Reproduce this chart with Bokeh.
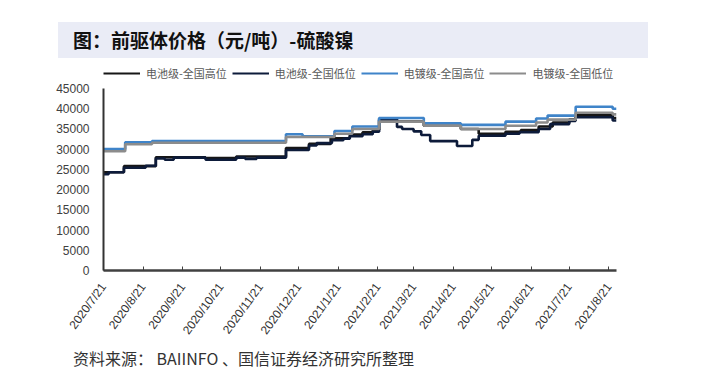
import pandas as pd
from bokeh.plotting import figure
from bokeh.layouts import column
from bokeh.models import Legend, LegendItem, FixedTicker, Range1d, ColumnDataSource, Div
from bokeh.embed import file_html
from bokeh.resources import INLINE

TITLE = "图：前驱体价格（元/吨）-硫酸镍"
SOURCE = "资料来源： BAIINFO 、国信证券经济研究所整理"
SERIES_NAMES = ["电池级-全国高位", "电池级-全国低位", "电镀级-全国高位", "电镀级-全国低位"]
SERIES_COLORS = ["#161616", "#0d1b3a", "#3f84c9", "#8c8c8c"]

X_START = "2020-07-21"
X_END = "2021-08-27"
TICK_DATES = ["2020-07-21", "2020-08-21", "2020-09-21", "2020-10-21", "2020-11-21",
              "2020-12-21", "2021-01-21", "2021-02-21", "2021-03-21", "2021-04-21",
              "2021-05-21", "2021-06-21", "2021-07-21", "2021-08-21"]
TICK_LABELS = ["2020/7/21", "2020/8/21", "2020/9/21", "2020/10/21", "2020/11/21",
               "2020/12/21", "2021/1/21", "2021/2/21", "2021/3/21", "2021/4/21",
               "2021/5/21", "2021/6/21", "2021/7/21", "2021/8/21"]
Y_TICKS = [0, 5000, 10000, 15000, 20000, 25000, 30000, 35000, 40000, 45000]

# 电池级-全国高位
battery_high_dates = ["2020-07-21", "2020-08-06", "2020-08-31", "2020-10-09", "2020-11-02",
                      "2020-12-11", "2020-12-29", "2021-01-15", "2021-01-30", "2021-02-09",
                      "2021-02-17", "2021-02-22", "2021-03-08", "2021-03-29", "2021-04-27",
                      "2021-05-11", "2021-06-01", "2021-06-13", "2021-06-27", "2021-07-08",
                      "2021-07-21", "2021-07-26", "2021-08-24"]
battery_high_vals = [24300, 25800, 28000, 27800, 28200,
                     30300, 31300, 32700, 33600, 34200,
                     34800, 37500, 36800, 35800, 35000,
                     33800, 34300, 34700, 35600, 36600,
                     37400, 38400, 37700]

# 电池级-全国低位
battery_low_dates = ["2020-07-21", "2020-07-25", "2020-08-06", "2020-08-23", "2020-08-31",
                     "2020-09-07", "2020-09-14", "2020-10-09", "2020-11-02", "2020-11-09",
                     "2020-11-18", "2020-12-11", "2020-12-29", "2021-01-04", "2021-01-16",
                     "2021-01-25", "2021-01-30", "2021-02-09", "2021-02-17", "2021-02-22",
                     "2021-03-08", "2021-03-12", "2021-03-21", "2021-03-27", "2021-04-03",
                     "2021-04-24", "2021-05-06", "2021-05-11", "2021-06-01", "2021-06-12",
                     "2021-06-27", "2021-07-06", "2021-07-21", "2021-07-26", "2021-08-24"]
battery_low_vals = [23800, 24300, 25400, 25900, 27700,
                    27400, 27900, 27400, 27900, 27600,
                    27900, 29800, 30900, 31500, 32200,
                    32600, 33200, 33700, 34300, 37200,
                    35500, 35000, 34400, 33500, 32000,
                    30800, 32300, 33300, 33800, 34200,
                    35000, 36200, 37000, 37900, 37100]

# 电镀级-全国高位
plating_high_dates = ["2020-07-21", "2020-08-07", "2020-08-28", "2020-12-11", "2020-12-24",
                      "2021-01-18", "2021-02-01", "2021-02-22", "2021-03-29", "2021-04-27",
                      "2021-06-01", "2021-06-25", "2021-07-04", "2021-07-26", "2021-08-24"]
plating_high_vals = [30000, 31700, 32000, 33700, 33200,
                     34500, 35600, 37700, 36400, 36000,
                     36800, 37600, 38300, 40500, 40000]

# 电镀级-全国低位
plating_low_dates = ["2020-07-21", "2020-08-07", "2020-08-28", "2020-12-11", "2021-01-18",
                     "2021-02-01", "2021-02-22", "2021-03-29", "2021-04-27", "2021-06-01",
                     "2021-06-25", "2021-07-04", "2021-07-26", "2021-08-24"]
plating_low_vals = [29500, 31200, 31600, 33000, 33800,
                    35000, 36800, 35800, 35000, 35800,
                    36600, 37300, 39000, 38600]

SERIES = [(battery_high_dates, battery_high_vals),
          (battery_low_dates, battery_low_vals),
          (plating_high_dates, plating_high_vals),
          (plating_low_dates, plating_low_vals)]

CJK = "Noto Sans CJK SC"
LAT = "Liberation Sans"
W = 697

# ---------- title block ----------
title_div = Div(
    text=(f'<div style="position:relative; left:58px; top:22px; width:590px; height:36px; '
          f'background:#eaecf6; box-sizing:border-box; padding-left:15px; line-height:36px; '
          f'font-family:\'{CJK}\'; font-weight:bold; font-size:19px; color:#111111; '
          f'white-space:nowrap;">{TITLE}</div>'),
    width=W, height=63, margin=0)

sources = []
for dates, vals in SERIES:
    xs = pd.to_datetime(dates + [X_END])
    ys = vals + [vals[-1]]
    sources.append(ColumnDataSource(dict(x=xs, y=ys)))

x_range = Range1d(pd.Timestamp(X_START), pd.Timestamp(X_END))

# ---------- legend strip (same series, drawn out of its view; only the legend shows) ----------
lf = figure(width=W, height=20, x_range=x_range, y_range=Range1d(-2, -1),
            x_axis_type=None, y_axis_type=None, toolbar_location=None,
            output_backend="svg", min_border=0, outline_line_color=None)
lf.grid.visible = False
leg_renderers = [lf.step("x", "y", source=src, mode="after", line_color=c, line_width=2.2)
                 for src, c in zip(sources, SERIES_COLORS)]
legend = Legend(items=[LegendItem(label=n, renderers=[r]) for n, r in zip(SERIES_NAMES, leg_renderers)],
                location="left", orientation="horizontal",
                glyph_width=37, glyph_height=12, label_standoff=6, spacing=5,
                padding=0, margin=0, border_line_color=None, background_fill_alpha=0,
                label_text_font=CJK, label_text_font_size="11px", label_text_color="#595959")
lf.add_layout(legend)

# ---------- main chart ----------
p = figure(width=W, height=265, x_axis_type="datetime", x_range=x_range,
           y_range=Range1d(0, 45000),
           min_border_left=103, min_border_right=81, min_border_top=5, min_border_bottom=78,
           toolbar_location=None, output_backend="svg", outline_line_color=None)
p.xgrid.visible = False
p.ygrid.visible = False

for src, color in zip(sources, SERIES_COLORS):
    p.step("x", "y", source=src, mode="after", line_color=color, line_width=2.6)

tick_ms = [pd.Timestamp(d).value // 10**6 for d in TICK_DATES]
p.xaxis.ticker = FixedTicker(ticks=tick_ms)
p.xaxis.major_label_overrides = {float(t): lab for t, lab in zip(tick_ms, TICK_LABELS)}
p.xaxis.major_label_orientation = 0.94
p.xaxis.major_label_text_font = LAT
p.xaxis.major_label_text_font_size = "12px"
p.xaxis.major_label_text_color = "#333333"
p.xaxis.major_tick_in = 4
p.xaxis.major_tick_out = 0
p.xaxis.minor_tick_line_color = None
p.xaxis.axis_line_width = 2.5
p.xaxis.axis_line_color = "#404040"
p.xaxis.major_tick_line_color = "#404040"
p.xaxis.major_label_standoff = 14

p.yaxis.ticker = FixedTicker(ticks=Y_TICKS)
p.yaxis.major_label_text_font = LAT
p.yaxis.major_label_text_font_size = "12px"
p.yaxis.major_label_text_color = "#404040"
p.yaxis.major_tick_line_color = None
p.yaxis.minor_tick_line_color = None
p.yaxis.axis_line_width = 2
p.yaxis.axis_line_color = "#333333"
p.yaxis.major_label_standoff = 8

# ---------- source line ----------
source_div = Div(
    text=(f'<div style="position:relative; left:73px; top:0px; line-height:20px; '
          f'font-family:\'{CJK}\'; font-size:16px; color:#333333; white-space:nowrap;">'
          f'{SOURCE}</div>'),
    width=W, height=30, margin=0)

layout = column(title_div, lf, p, source_div, spacing=0)
open("out.html", "w").write(file_html(layout, INLINE))
